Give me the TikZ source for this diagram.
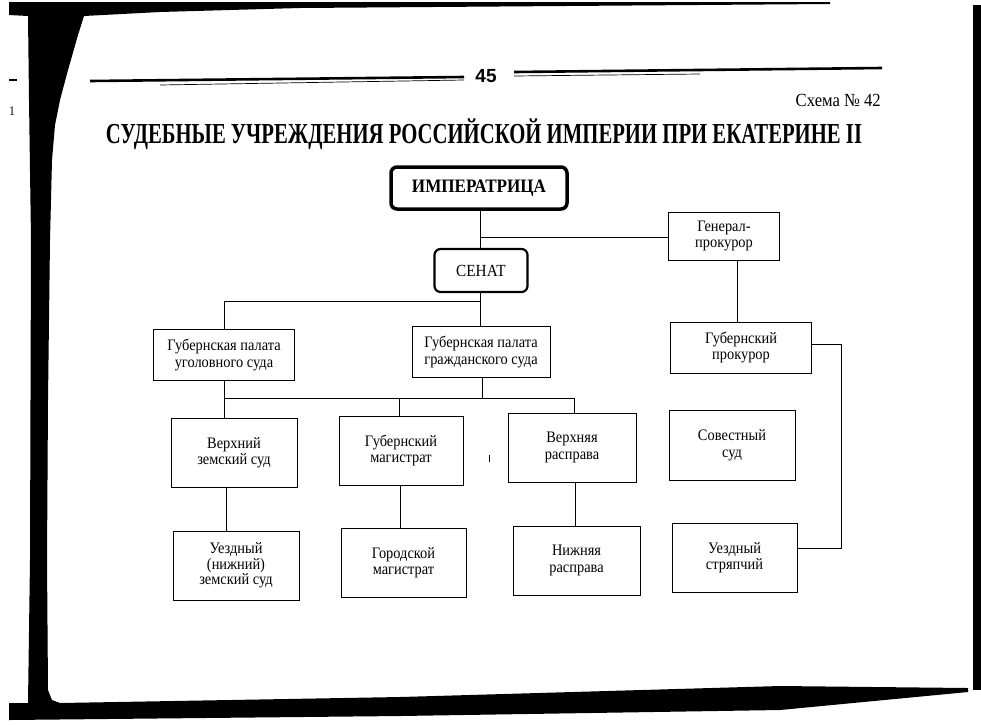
\documentclass[tikz,border=0pt]{standalone}
\usepackage{fontspec}
\setmainfont{Liberation Serif}[FakeStretch=0.9]
\newfontfamily\headsans{Liberation Sans}
\begin{document}
\begin{tikzpicture}[x=1pt,y=-1pt,
  box/.style={draw, line width=0.9pt, inner sep=0pt, align=center,
    font=\fontsize{16}{16.5}\selectfont},
  rbox/.style={draw, rounded corners=6pt, inner sep=0pt, align=center},
  conn/.style={line width=0.9pt},
  ink/.style={fill=black, draw=none}]
\useasboundingbox (0,0) rectangle (981,724);
\fill[white] (0,0) rectangle (981,724);
% scan borders
\fill[ink] (9,2) -- (830,2) -- (830,4) -- (300,8) -- (160,12) -- (84,16)
  -- (78,35) -- (68,70) -- (60,100) -- (55,125) -- (52,160) -- (50,240)
  -- (48,400) -- (47,560) -- (48,690) -- (52,700) -- (60,703) -- (400,697)
  -- (780,686) -- (968,688) -- (968,692) -- (780,710) -- (400,716) -- (9,720)
  -- (9,703) -- (28,703) -- (30,560) -- (31,240) -- (29,100) -- (28,16)
  -- (9,15) -- cycle;
\fill[ink] (973,5) rectangle (981,690);
\draw[line width=1.2pt] (9,80) -- (17,80);
\node[font=\fontsize{13}{13}\selectfont, inner sep=0pt] (pgmark) at (12,111) {1};
\draw[line width=0.6pt] (489,455) -- (489,462);
% header
\draw[line width=2.6pt] (90,81) -- (464,77);
\draw[line width=0.7pt] (160,85) -- (464,80);
\draw[line width=2.6pt] (514,72) -- (882,68);
\draw[line width=0.7pt] (514,76) -- (700,74);
\node[font=\headsans\bfseries\fontsize{19}{19}\selectfont, inner sep=0pt] (pgno) at (486,76) {45};
\node[font=\fontsize{18.5}{18.5}\selectfont, inner sep=0pt, anchor=east] (schema) at (881,100) {Схема № 42};
\node[inner sep=0pt] (title) at (484,134)
  {\resizebox{756pt}{\height}{\fontsize{29}{29}\selectfont\bfseries СУДЕБНЫЕ УЧРЕЖДЕНИЯ РОССИЙСКОЙ ИМПЕРИИ ПРИ ЕКАТЕРИНЕ II}};
% boxes
\node[rbox, line width=3.5pt, minimum width=176pt, minimum height=42pt,
  font=\bfseries\fontsize{19}{19}\selectfont] (imp) at (479,188) {ИМПЕРАТРИЦА};
\node[rbox, line width=2.2pt, minimum width=93pt, minimum height=43pt,
  font=\fontsize{17}{17}\selectfont] (senat) at (481,270.5) {СЕНАТ};
\node[box, minimum width=111pt, minimum height=48pt] (genpr) at (724,236) {Генерал-\\прокурор};
\node[box, minimum width=141pt, minimum height=51pt] (ugol) at (224,355) {Губернская палата\\уголовного суда};
\node[box, minimum width=138pt, minimum height=51pt] (grazh) at (481,352) {Губернская палата\\гражданского суда};
\node[box, minimum width=141pt, minimum height=51pt] (gubpr) at (741,347.5) {Губернский\\прокурор};
\node[box, minimum width=126pt, minimum height=69pt] (vzs) at (234,452.5) {Верхний\\земский суд};
\node[box, minimum width=124pt, minimum height=69pt] (gm) at (401,450.5) {Губернский\\магистрат};
\node[box, minimum width=128pt, minimum height=69pt] (vr) at (572,447.5) {Верхняя\\расправа};
\node[box, minimum width=126pt, minimum height=70pt] (sov) at (732,445) {Совестный\\суд};
\node[box, minimum width=126pt, minimum height=69pt, font=\fontsize{16}{15.5}\selectfont] (uzs) at (236,565.5) {Уездный\\(нижний)\\земский суд};
\node[box, minimum width=125pt, minimum height=69pt] (gorm) at (403.5,562.5) {Городской\\магистрат};
\node[box, minimum width=127pt, minimum height=69pt] (nr) at (576.5,560.5) {Нижняя\\расправа};
\node[box, minimum width=125pt, minimum height=69pt] (us) at (734.5,557.5) {Уездный\\стряпчий};
% junction coordinates
\coordinate (jgp) at (480,237);
\coordinate (js) at (480,301);
\coordinate (jl) at (224,301);
\coordinate (jb1) at (224,398);
\coordinate (jb2) at (482,398);
\coordinate (jb3) at (399,398);
\coordinate (jb4) at (574,398);
\coordinate (jr1) at (841,344);
\coordinate (jr2) at (841,548);
% connectors
\draw[conn] (imp.south -| jgp) -- (senat.north -| jgp);
\draw[conn] (jgp) -- (jgp -| genpr.west);
\draw[conn] (genpr.south -| 737,0) -- (gubpr.north -| 737,0);
\draw[conn] (senat.south -| js) -- (js) -- (jl) -- (jl |- ugol.north);
\draw[conn] (js) -- (js |- grazh.north);
\draw[conn] (jb1 |- ugol.south) -- (jb1) -- (jb4) -- (jb4 |- vr.north);
\draw[conn] (jb2 |- grazh.south) -- (jb2);
\draw[conn] (jb1) -- (jb1 |- vzs.north);
\draw[conn] (jb3) -- (jb3 |- gm.north);
\draw[conn] (vzs.south -| 226,0) -- (uzs.north -| 226,0);
\draw[conn] (gm.south -| 400,0) -- (gorm.north -| 400,0);
\draw[conn] (vr.south -| 575,0) -- (nr.north -| 575,0);
\draw[conn] (jr1 -| gubpr.east) -- (jr1) -- (jr2) -- (jr2 -| us.east);
\end{tikzpicture}
\end{document}
